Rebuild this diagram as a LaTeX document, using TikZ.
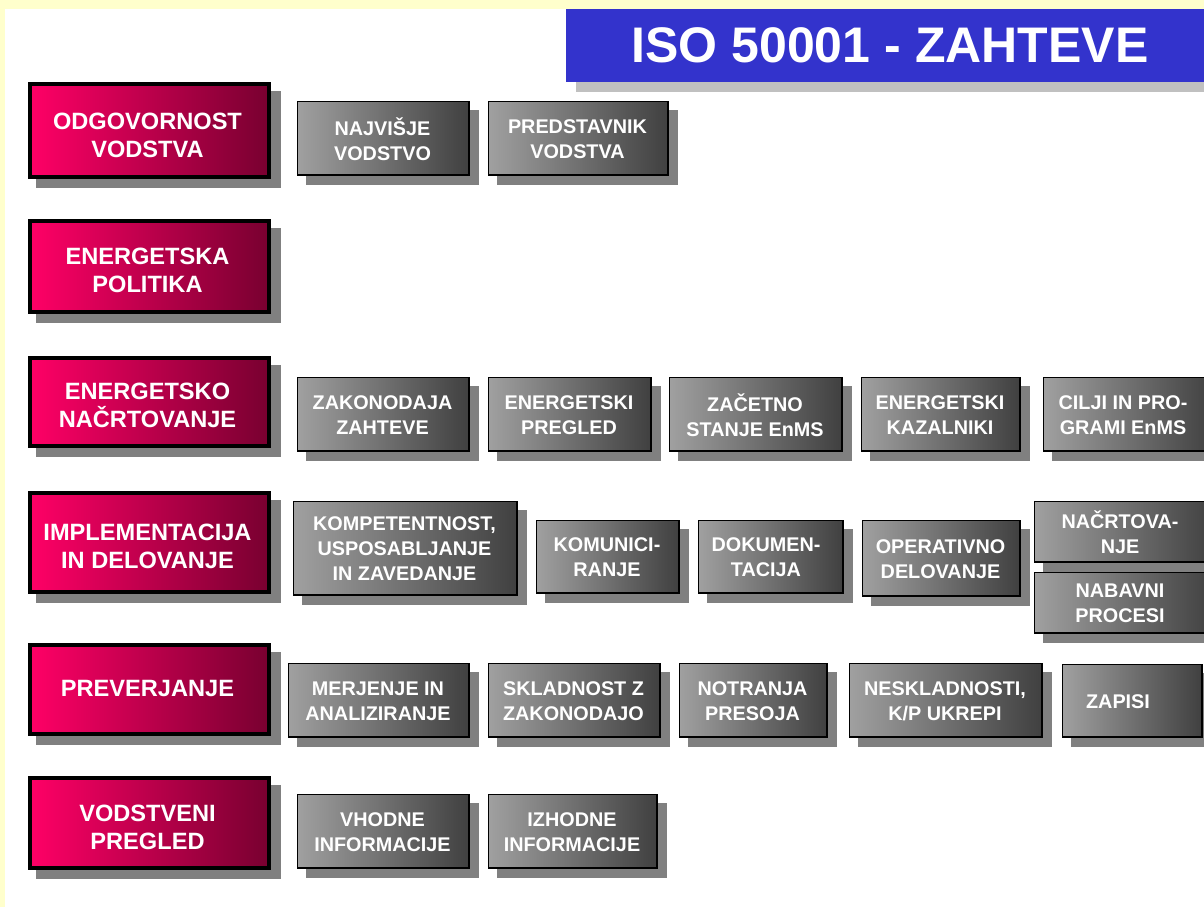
\documentclass[tikz,border=0pt]{standalone}
\usepackage{fontspec}
\setmainfont{Liberation Sans}
\definecolor{bgyellow}{HTML}{FFFFCC}
\definecolor{titleblue}{HTML}{3333CC}
\definecolor{titleshadow}{HTML}{C0C0C0}
\definecolor{boxshadow}{HTML}{808080}
\definecolor{gleft}{HTML}{A0A0A0}
\definecolor{gright}{HTML}{404040}
\definecolor{pleft}{HTML}{FF0066}
\definecolor{pright}{HTML}{780030}
\tikzset{
  shadowfill/.style={fill=boxshadow},
  greyrect/.style={draw=black, line width=1.6pt, left color=gleft, right color=gright, inner sep=0pt, anchor=north west},
  pinkrect/.style={draw=black, line width=4pt, left color=pleft, right color=pright, inner sep=0pt, anchor=north west},
  greytext/.style={text=white, font=\bfseries\fontsize{19.8}{25}\selectfont, align=center, inner sep=0pt},
  pinktext/.style={text=white, font=\bfseries\fontsize{23.6}{28}\selectfont, align=center, inner sep=0pt},
  titletext/.style={text=white, font=\bfseries\fontsize{50}{56}\selectfont, inner sep=0pt}
}
% name, x1, y1, x2, y2, text centre x, text
\newcommand\gbx[7]{%
  \fill[shadowfill] ({#2+10},{#3+10}) rectangle ({#4+10},{#5+10});
  \node[greyrect, minimum width={#4-#2-1.6}, minimum height={#5-#3-1.6}] (#1-box) at ({#2+0.8},{#3+0.8}) {};
  \node[greytext] (#1) at ({#6},{(#3+#5)/2+1.5}) {#7};}
% name, y1, y2, text shift, text
\newcommand\pbx[5]{%
  \fill[shadowfill] (36,{#2+11}) rectangle (281,{#3+11});
  \node[pinkrect, minimum width=239, minimum height={#3-#2-4}] (#1-box) at (28,{#2+2}) {};
  \node[pinktext] (#1) at (147.5,{(#2+#3)/2+#4}) {#5};}
\begin{document}
\begin{tikzpicture}[x=1pt,y=-1pt]
\useasboundingbox (0,0) rectangle (1204,907);
\fill[bgyellow] (0,0) rectangle (1204,907);
\fill[white] (5,9) rectangle (1204,907);
% title
\fill[titleshadow] (576,19) rectangle (1214,92);
\fill[titleblue] (566,9) rectangle (1214,82);
\node[titletext] (title) at (890,45) {ISO 50001 - ZAHTEVE};
% left column
\pbx{p1}{80}{177}{6.5}{ODGOVORNOST\\VODSTVA}
\pbx{p2}{217}{312}{6}{ENERGETSKA\\POLITIKA}
\pbx{p3}{354}{446}{5.5}{ENERGETSKO\\NAČRTOVANJE}
\pbx{p4}{489}{592}{6}{IMPLEMENTACIJA\\IN DELOVANJE}
\pbx{p5}{641}{734}{0.5}{PREVERJANJE}
\pbx{p6}{774}{868}{6}{VODSTVENI\\PREGLED}
% row 1
\gbx{g11}{296}{100}{469}{175}{382.5}{NAJVIŠJE\\VODSTVO}
\gbx{g12}{487}{100}{668}{175}{577.5}{PREDSTAVNIK\\VODSTVA}
% row 3
\gbx{g31}{296}{376}{469}{451}{382.5}{ZAKONODAJA\\ZAHTEVE}
\gbx{g32}{487}{376}{651}{451}{569}{ENERGETSKI\\PREGLED}
\gbx{g33}{668}{376}{842}{451}{755}{ZAČETNO\\STANJE EnMS}
\gbx{g34}{860}{376}{1020}{451}{940}{ENERGETSKI\\KAZALNIKI}
\gbx{g35}{1042}{376}{1214}{451}{1123}{CILJI IN PRO-\\GRAMI EnMS}
% row 4
\gbx{g41}{292}{500}{517}{595}{404.5}{KOMPETENTNOST,\\USPOSABLJANJE\\IN ZAVEDANJE}
\gbx{g42}{535}{519}{679}{593}{607}{KOMUNICI-\\RANJE}
\gbx{g43}{697}{519}{843}{593}{766}{DOKUMEN-\\TACIJA}
\gbx{g44}{861}{519}{1020}{596}{940.5}{OPERATIVNO\\DELOVANJE}
\gbx{g45}{1033}{500}{1214}{562}{1120}{NAČRTOVA-\\NJE}
\gbx{g46}{1033}{571}{1214}{633}{1120}{NABAVNI\\PROCESI}
% row 5
\gbx{g51}{287}{662}{469}{737}{378}{MERJENJE IN\\ANALIZIRANJE}
\gbx{g52}{487}{662}{660}{737}{573.5}{SKLADNOST Z\\ZAKONODAJO}
\gbx{g53}{678}{662}{827}{737}{752.5}{NOTRANJA\\PRESOJA}
\gbx{g54}{848}{662}{1042}{737}{945}{NESKLADNOSTI,\\K/P UKREPI}
\gbx{g55}{1061}{663}{1202}{737}{1118}{ZAPISI}
% row 6
\gbx{g61}{296}{793}{469}{868}{382.5}{VHODNE\\INFORMACIJE}
\gbx{g62}{487}{793}{657}{868}{572}{IZHODNE\\INFORMACIJE}
\end{tikzpicture}
\end{document}
